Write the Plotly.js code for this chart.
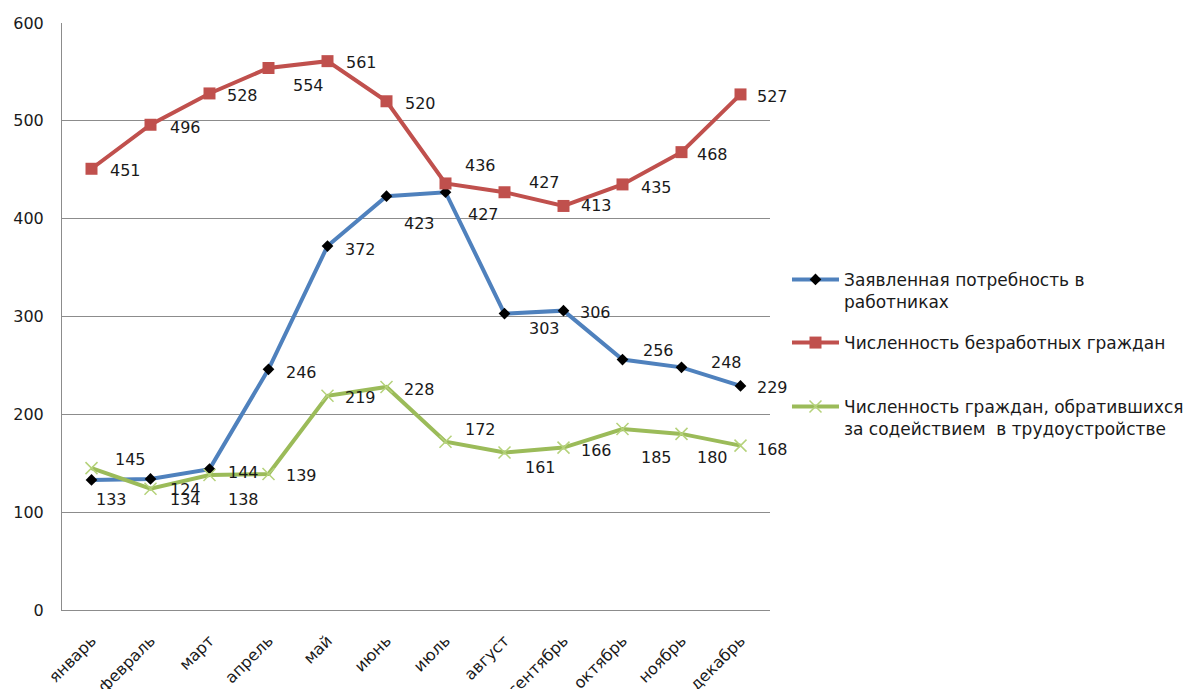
<!DOCTYPE html>
<html>
<head>
<meta charset="utf-8">
<script src="https://cdn.plot.ly/plotly-3.0.1.min.js"></script>
<style>html,body{margin:0;padding:0;background:#fff;}#chart{width:1194px;height:689px;}</style>
</head>
<body>
<div id="chart"></div>
<script>
// ---- data ----
const months = ["январь","февраль","март","апрель","май","июнь","июль","август","сентябрь","октябрь","ноябрь","декабрь"];
const demandName = "Заявленная потребность в<br>работниках";
const demand = [133,134,144,246,372,423,427,303,306,256,248,229];
const unemployedName = "Численность безработных граждан";
const unemployed = [451,496,528,554,561,520,436,427,413,435,468,527];
const appliedName = "Численность граждан, обратившихся<br>за содействием  в трудоустройстве";
const applied = [145,124,138,139,219,228,172,161,166,185,180,168];

// ---- label placement (pixel offsets of data labels: [dx, dy]) ----
const demandLabelOff = [[20,20],[35,21],[34,3],[33,3],[33,3],[33,27],[38,22],[40,15],[32,2],[36,-9],[45,-5],[32,2]];
const unemployedLabelOff = [[34,2],[35,3],[33,2],[40,17],[34,1],[34,2],[35,-18],[40,-10],[33,0],[34,3],[31,2],[32,2]];
const appliedLabelOff = [[39,-9],[35,1],[34,25],[33,1],[33,2],[33,3],[35,-12],[36,15],[33,3],[34,28],[31,24],[32,4]];

const FONT = "DejaVu Sans, Verdana, sans-serif";
const TXT = "#1a1a1a";

const traces = [
  {x: months, y: demand, name: demandName, type: "scatter", mode: "lines+markers",
   line: {color: "#4F81BD", width: 4}, marker: {symbol: "diamond", color: "#000", size: 9},
   legend: "legend"},
  {x: months, y: unemployed, name: unemployedName, type: "scatter", mode: "lines+markers",
   line: {color: "#C0504D", width: 4}, marker: {symbol: "square", color: "#C0504D", size: 12},
   legend: "legend2"},
  {x: months, y: applied, name: appliedName, type: "scatter", mode: "lines+markers",
   line: {color: "#9BBB59", width: 4}, marker: {symbol: "x-thin", size: 12, line: {color: "#b5d27a", width: 1.5}},
   legend: "legend3"}
];

function labels(vals, offs) {
  return vals.map((v, i) => ({
    x: months[i], y: v, xref: "x", yref: "y", text: String(v), showarrow: false,
    xanchor: "center", yanchor: "middle", xshift: offs[i][0], yshift: -offs[i][1],
    font: {family: FONT, size: 16, color: TXT}
  }));
}
const annotations = [].concat(
  labels(unemployed, unemployedLabelOff),
  labels(demand, demandLabelOff),
  labels(applied, appliedLabelOff)
);

function legendAt(y) {
  return {x: 1.024, xanchor: "left", y: y, yanchor: "top", valign: "top", itemwidth: 47,
          font: {family: FONT, size: 17, color: TXT}, bgcolor: "rgba(0,0,0,0)"};
}

const layout = {
  width: 1194, height: 689,
  margin: {l: 62, r: 424, t: 23, b: 79, autoexpand: false},
  paper_bgcolor: "#fff", plot_bgcolor: "#fff",
  font: {family: FONT, size: 15, color: TXT},
  showlegend: true,
  legend: legendAt(0.593),
  legend2: legendAt(0.4855),
  legend3: legendAt(0.3765),
  xaxis: {type: "category", range: [-0.5, 11.5], tickangle: -45, showgrid: false, automargin: false,
          showline: true, linecolor: "#8c8c8c", linewidth: 1, ticks: "", ticklabelstandoff: 14,
          tickfont: {family: FONT, size: 16, color: TXT}, zeroline: false, fixedrange: true},
  yaxis: {range: [0, 600], dtick: 100, showgrid: true, gridcolor: "#8c8c8c", gridwidth: 1, automargin: false,
          showline: true, linecolor: "#8c8c8c", linewidth: 1, ticks: "", ticklabelstandoff: 14,
          zeroline: false, tickfont: {family: FONT, size: 16, color: TXT}, fixedrange: true},
  annotations: annotations
};

Plotly.newPlot("chart", traces, layout, {displayModeBar: false, staticPlot: true});
</script>
</body>
</html>
